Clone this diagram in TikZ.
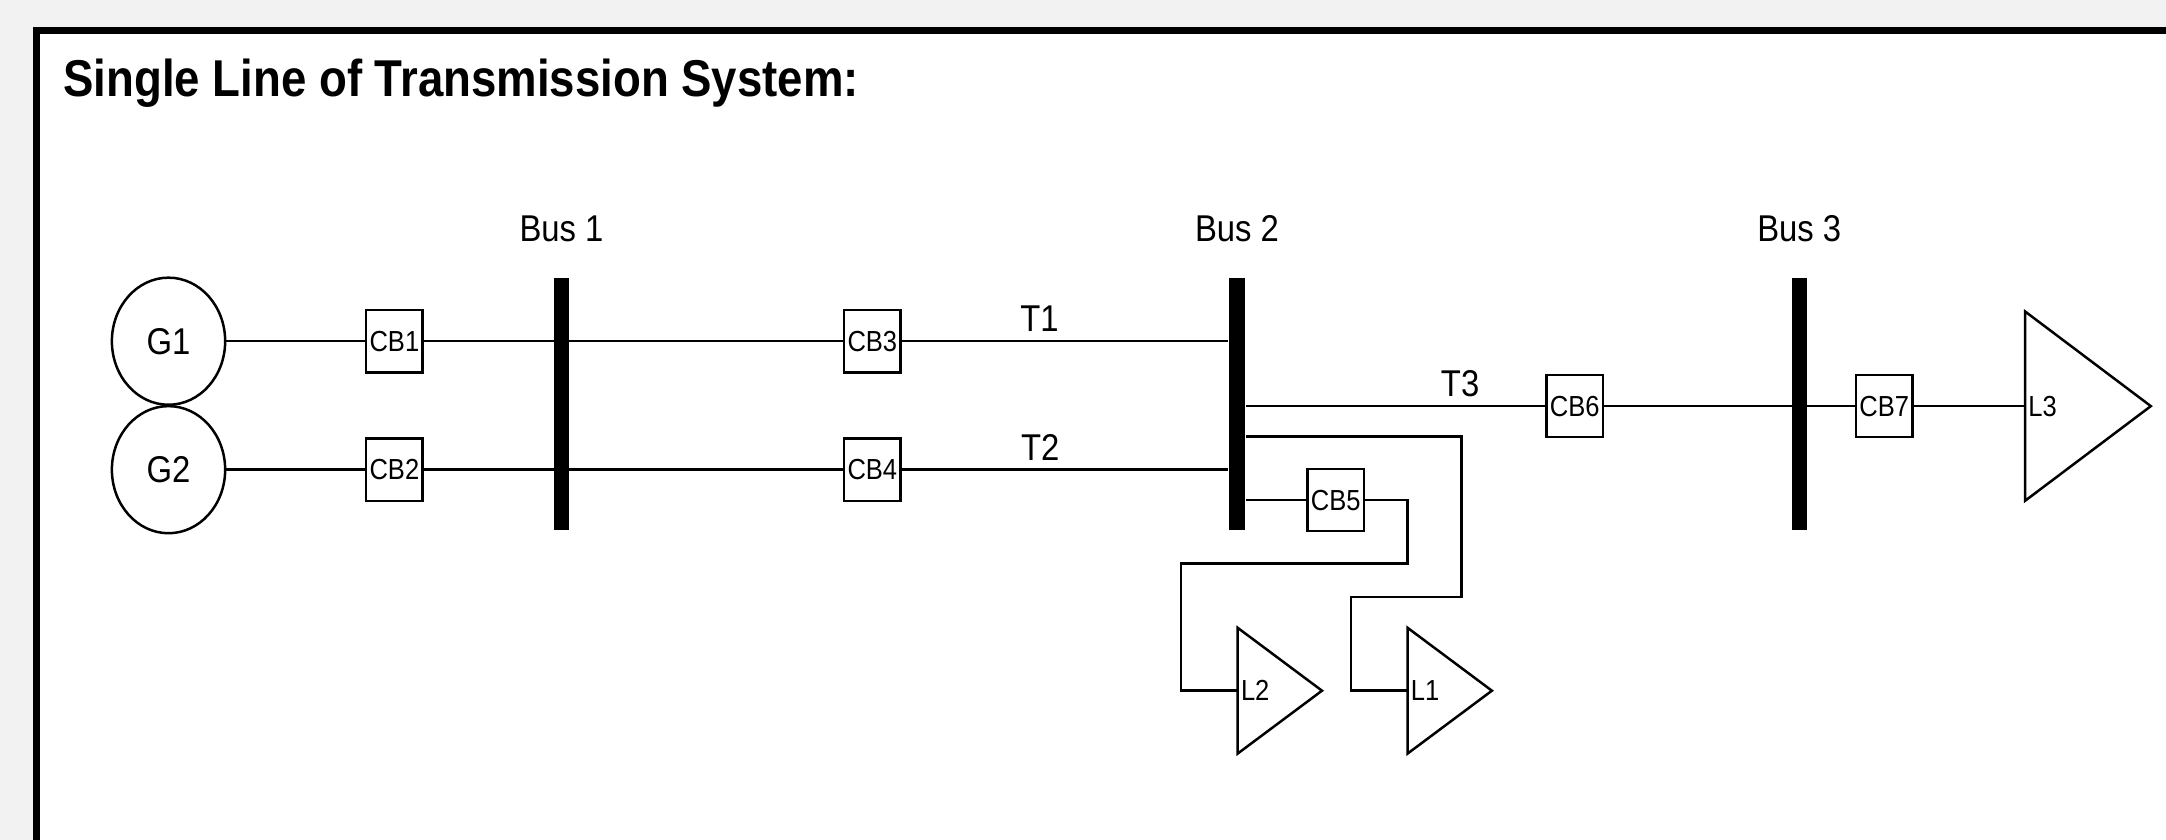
\documentclass[tikz,border=0pt]{standalone}
\usepackage{fontspec}
\setmainfont{Liberation Sans}[FakeStretch=0.88]
\usetikzlibrary{positioning,shapes.geometric}
\definecolor{pagegrey}{HTML}{F2F2F2}
\newcommand{\fsz}[1]{\fontsize{#1}{#1}\selectfont}

\begin{document}
\begin{tikzpicture}[
		  x=1pt, y=-1pt, line width=1.8pt,
		  gen/.style={draw, ellipse, minimum width=82pt, minimum height=92pt, inner sep=0pt, font=\fsz{27}},
		  brk/.style={draw, minimum width=41pt, minimum height=45pt, inner sep=0pt, font=\fsz{21}},
		  busbar/.style={fill=black, minimum width=11pt, minimum height=183pt, inner sep=0pt},
		  buslbl/.style={inner sep=0pt, font=\fsz{27}},
		  tlbl/.style={anchor=base, inner sep=0pt, font=\fsz{27}},
		  ldlbl/.style={anchor=west, inner sep=1.5pt, font=\fsz{21}}
		]
		\useasboundingbox (0,0) rectangle (1568,608);
		\fill[pagegrey] (0,0) rectangle (1568,608);
		\draw[line width=5.5pt, fill=white] (26.5,22) rectangle (1620,660);
		
		\node[anchor=base west, inner sep=0pt, font=\fsz{37.5}\bfseries] (title) at (45,70) {Single Line of Transmission System:};
		
		% generators and breakers
		\node[gen] (g1) at (122,247) {G1};
		\node[gen] (g2) at (122,340) {G2};
		\node[brk] (cb1) at (285.5,247) {CB1};
		\node[brk] (cb2) at (285.5,340) {CB2};
		\node[brk] (cb3) at (631.5,247) {CB3};
		\node[brk] (cb4) at (631.5,340) {CB4};
		\node[brk] (cb5) at (967,362) {CB5};
		\node[brk] (cb6) at (1140,294) {CB6};
		\node[brk] (cb7) at (1364,294) {CB7};
		
		% buses
		\node[busbar] (bus1) at (406.5,292.5) {};
		\node[busbar] (bus2) at (895.5,292.5) {};
		\node[busbar] (bus3) at (1302.5,292.5) {};
		\node[buslbl, above=24pt of bus1] (bus1_lbl) {Bus 1};
		\node[buslbl, above=24pt of bus2] (bus2_lbl) {Bus 2};
		\node[buslbl, above=24pt of bus3] (bus3_lbl) {Bus 3};
		
		% loads
		\node[ldlbl] (l3) at (1466,294) {L3};
		\node[ldlbl] (l1) at (1019,500) {L1};
		\node[ldlbl] (l2) at (896,500) {L2};
		\draw (l3.west) ++(0,-68.5) -- ++(0,137) -- ++(91,-68.5) -- cycle;
		\draw (l1.west) ++(0,-45.5) -- ++(0,91) -- ++(61,-45.5) -- cycle;
		\draw (l2.west) ++(0,-45.5) -- ++(0,91) -- ++(61,-45.5) -- cycle;
		
		% lines
		\node[tlbl] (t1) at (752.5,240) {T1};
		\node[tlbl] (t2) at (753,333) {T2};
		\node[tlbl] (t3) at (1057,287) {T3};
		
		\draw (g1) -- (cb1);
		\draw (cb1) -- (cb3);
		\draw (cb3) -- (cb3 -| bus2.west);
		\draw (g2) -- (cb2);
		\draw (cb2) -- (cb4);
		\draw (cb4) -- (cb4 -| bus2.west);
		\draw (bus2.east |- cb6) -- (cb6);
		\draw (cb6) -- (cb7);
		\draw (cb7) -- (l3.west);
		
		\coordinate (l1_top) at (1058,316);
		\coordinate (l1_mid) at (978,432);
		\draw (bus2.east |- l1_top) -- (l1_top) |- (l1_mid) |- (l1.west);
		
		\coordinate (l2_top) at (1019,408);
		\coordinate (l2_mid) at (855,408);
		\draw (bus2.east |- cb5) -- (cb5);
		\draw (cb5) -| (l2_top) -- (l2_mid) |- (l2.west);
		\end{tikzpicture}
\end{document}
